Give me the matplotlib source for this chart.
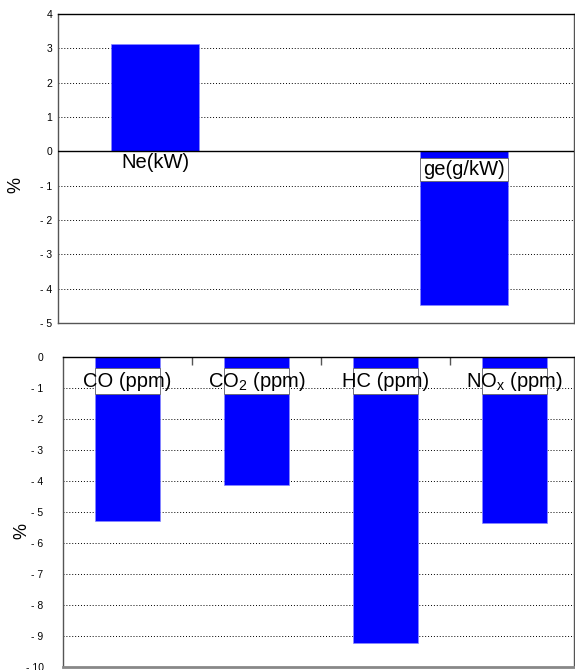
import matplotlib
matplotlib.use("Agg")
import matplotlib.pyplot as plt
from matplotlib.patches import Rectangle
from matplotlib.ticker import FuncFormatter

plt.rcParams['font.family'] = ['Liberation Sans', 'DejaVu Sans']
plt.rcParams['mathtext.fontset'] = 'custom'
plt.rcParams['mathtext.rm'] = 'Liberation Sans'

# Data
top_labels = ["Ne(kW)", "ge(g/kW)"]
top_values = [3.13, -4.48]
bottom_labels = ["CO (ppm)", "CO$_\\mathregular{2}$ (ppm)", "HC (ppm)", "NO$_\\mathregular{x}$ (ppm)"]
bottom_values = [-5.29, -4.14, -9.22, -5.37]
top_yticks = [4, 3, 2, 1, 0, -1, -2, -3, -4, -5]
bottom_yticks = [0, -1, -2, -3, -4, -5, -6, -7, -8, -9, -10]

BLUE = '#0000FF'
fig = plt.figure(figsize=(5.75, 6.7), dpi=100)

def fmt(v, pos):
    v = int(round(v))
    return "- %d" % (-v) if v < 0 else "%d" % v

def style(ax, pad):
    ax.yaxis.set_major_formatter(FuncFormatter(fmt))
    ax.tick_params(axis='y', length=0, pad=pad, labelsize=7.5)
    for s in ax.spines.values():
        s.set_color('#555555')
        s.set_linewidth(1.0)
    ax.spines['top'].set_color('black')
    ax.yaxis.grid(True, color='black', linestyle=(0, (1, 2)), linewidth=0.7)
    ax.set_axisbelow(True)

# Top axes
ax1 = fig.add_axes([58/575, 1-323/670, 516/575, 309/670])
xs1 = [0, 1]
ax1.bar(xs1, top_values, width=0.285, color=BLUE, edgecolor='#8888ff', linewidth=0.5, zorder=2)
ax1.set_xlim(-0.314, 1.356)
ax1.set_ylim(-5, 4)
ax1.set_yticks(top_yticks)
ax1.set_xticks([])
ax1.axhline(0, color='black', linewidth=1.0, zorder=3)
style(ax1, 4)
fig.text(16/575, 1-185/670, '%', rotation=90, ha='center', va='center', fontsize=13)
# Ne label below bar
ax1.text(xs1[0], -0.33, top_labels[0], ha='center', va='center', fontsize=14.5, zorder=5)
# ge label in white box
ax1.add_patch(Rectangle((xs1[1]-0.1425, -0.87), 0.285, 0.69, facecolor='white',
                        edgecolor='#666666', linewidth=0.6, zorder=4))
ax1.text(xs1[1], -0.53, top_labels[1], ha='center', va='center', fontsize=14.5, zorder=5)

# Bottom axes
ax2 = fig.add_axes([63/575, 3/670, 511/575, 310/670])
xs2 = list(range(len(bottom_values)))
ax2.bar(xs2, bottom_values, width=0.5, color=BLUE, edgecolor='#8888ff', linewidth=0.5, zorder=2)
ax2.set_xlim(-0.5, 3.461)
ax2.set_ylim(-10, 0)
ax2.set_yticks(bottom_yticks)
ax2.xaxis.tick_top()
ax2.set_xticks([0.5, 1.5, 2.5])
ax2.set_xticklabels([])
ax2.tick_params(axis='x', direction='in', length=6, color='#555555', width=1)
style(ax2, 14)
ax2.spines['bottom'].set_linewidth(2.0)
ax2.spines['bottom'].set_color('#888888')
fig.text(22/575, 1-531/670, '%', rotation=90, ha='center', va='center', fontsize=13)
for x, lab in zip(xs2, bottom_labels):
    ax2.add_patch(Rectangle((x-0.25, -1.2), 0.5, 0.83, facecolor='white',
                            edgecolor='#666666', linewidth=0.6, zorder=4))
    ax2.text(x, -0.8, lab, ha='center', va='center', fontsize=14.5, zorder=5)

fig.savefig('out.png', dpi=100)
